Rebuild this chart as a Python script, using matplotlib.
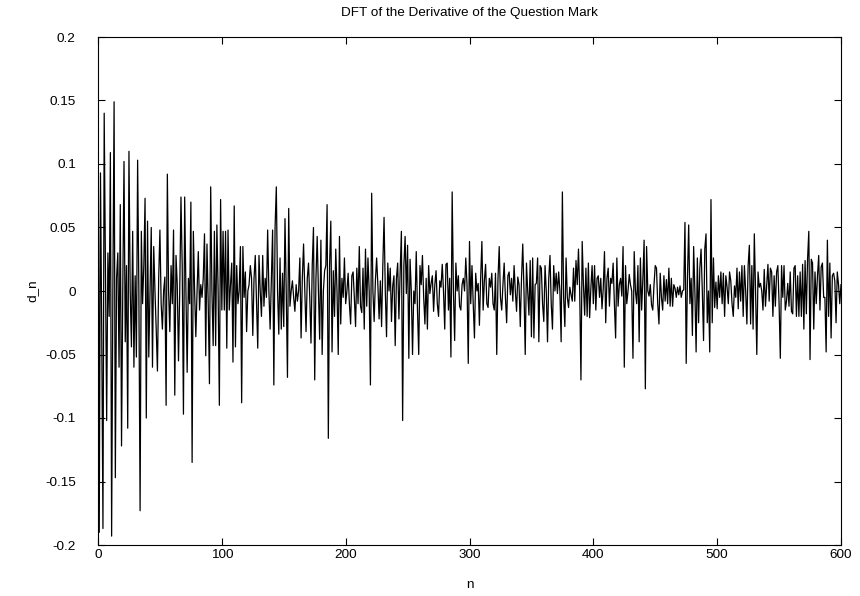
import matplotlib
matplotlib.use("Agg")
import matplotlib.pyplot as plt
from matplotlib.ticker import FuncFormatter, MultipleLocator
import numpy as np

# d_n values, in blocks of 50 (n = 0 .. 600)
d_000 = [0.2, -0.19, 0.093, -0.03, -0.187, 0.14, 0.02, -0.102, 0.03, -0.02,
         0.109, -0.193, 0.0, 0.149, -0.147, 0.01, 0.03, -0.06, 0.068, -0.122,
         0.0, 0.102, -0.04, 0.02, -0.108, 0.11, 0.0, -0.044, 0.047, -0.06,
         0.012, -0.052, 0.103, 0.0, -0.173, 0.047, -0.01, 0.02, 0.073, -0.1,
         0.055, -0.052, 0.0, 0.05, -0.06, 0.035, 0.0, -0.03, -0.063, 0.01]
d_050 = [0.048, -0.01, -0.03, 0.0, 0.011, -0.09, 0.092, 0.0, -0.032, 0.02,
         -0.01, 0.048, -0.082, 0.028, 0.005, -0.055, 0.0, 0.074, 0.02, -0.097,
         0.074, 0.0, -0.064, 0.01, -0.01, 0.07, -0.135, 0.047, 0.0, -0.036,
         0.0, 0.031, -0.015, 0.005, -0.005, 0.01, 0.045, -0.051, 0.037, -0.01,
         -0.073, 0.082, 0.0, -0.043, 0.047, -0.043, 0.052, 0.0, -0.09, 0.072]
d_100 = [-0.015, 0.047, -0.015, 0.047, -0.045, 0.048, -0.015, 0.005, 0.022, -0.056,
         0.067, -0.044, 0.02, -0.01, 0.0, 0.035, -0.088, 0.035, -0.005, 0.015,
         -0.032, 0.0, 0.005, 0.02, 0.01, -0.035, 0.01, 0.028, -0.01, -0.045,
         0.028, 0.0, -0.02, 0.028, -0.012, 0.01, -0.005, 0.048, 0.0, -0.03,
         0.01, 0.048, -0.074, 0.05, 0.082, 0.0, -0.034, 0.026, -0.03, 0.014]
d_150 = [-0.028, 0.057, 0.0, -0.068, 0.065, -0.012, 0.0, 0.008, -0.005, -0.016,
         0.005, -0.008, 0.0, 0.026, -0.037, 0.01, 0.037, 0.0, -0.032, 0.01,
         0.022, -0.005, -0.041, 0.02, 0.05, -0.07, 0.01, 0.043, 0.0, -0.038,
         0.04, -0.05, 0.0, 0.016, 0.02, 0.068, -0.116, 0.02, 0.055, -0.048,
         0.016, -0.02, 0.033, 0.0, -0.05, 0.043, -0.026, 0.01, -0.005, 0.026]
d_200 = [-0.01, 0.0, 0.014, -0.01, -0.026, 0.012, 0.015, -0.005, -0.028, 0.018,
         -0.01, 0.035, -0.012, -0.017, 0.018, -0.03, 0.033, -0.012, 0.026, 0.0,
         -0.074, 0.077, 0.0, -0.024, 0.008, 0.026, 0.005, -0.022, 0.008, -0.028,
         0.02, 0.058, 0.0, -0.036, 0.022, 0.0, 0.018, -0.024, 0.004, 0.012,
         -0.043, 0.01, 0.022, -0.022, 0.015, 0.047, -0.102, 0.02, 0.043, -0.002]
d_250 = [0.036, -0.053, 0.025, 0.0, -0.05, 0.0, -0.01, 0.031, -0.015, -0.05,
         0.02, 0.005, 0.028, -0.005, -0.026, 0.01, -0.03, 0.02, -0.002, 0.006,
         0.012, -0.016, 0.005, 0.016, -0.01, -0.02, 0.008, 0.003, 0.021, 0.0,
         -0.03, 0.021, 0.022, -0.015, 0.01, -0.052, 0.078, 0.0, -0.039, 0.022,
         0.0, 0.012, -0.012, -0.015, 0.005, 0.01, 0.0, 0.026, 0.005, -0.057]
d_300 = [0.039, -0.01, 0.02, -0.01, -0.037, 0.014, 0.0, 0.006, -0.027, 0.01,
         0.039, -0.015, 0.008, 0.021, -0.01, -0.013, 0.01, 0.003, 0.014, -0.01,
         -0.015, 0.014, -0.05, 0.01, 0.035, -0.005, -0.015, 0.005, 0.022, -0.005,
         -0.025, 0.012, 0.015, -0.003, 0.01, -0.008, 0.02, 0.0, -0.016, 0.011,
         0.005, -0.028, 0.01, 0.037, 0.0, -0.05, 0.022, 0.0, -0.019, 0.024]
d_350 = [-0.036, 0.026, -0.037, 0.005, 0.006, 0.026, -0.04, 0.02, 0.018, -0.01,
         -0.024, 0.02, 0.0, -0.04, 0.01, 0.028, -0.01, -0.03, 0.02, 0.0,
         0.014, -0.002, 0.015, 0.0, -0.04, 0.078, -0.005, -0.028, 0.026, -0.005,
         -0.013, 0.003, -0.003, -0.008, 0.018, -0.008, 0.024, 0.005, 0.033, 0.0,
         -0.07, 0.039, 0.005, -0.019, 0.018, -0.02, 0.022, -0.021, 0.002, 0.02]
d_400 = [-0.01, 0.02, -0.015, 0.01, 0.012, -0.005, 0.01, -0.014, 0.002, 0.031,
         -0.025, 0.01, 0.018, -0.012, 0.01, 0.006, 0.022, -0.01, -0.037, 0.026,
         -0.012, 0.005, 0.01, -0.004, 0.035, -0.06, 0.02, -0.01, 0.0, 0.013,
         0.005, 0.0, -0.053, 0.031, 0.0, -0.01, 0.02, -0.04, 0.026, -0.015,
         0.01, 0.04, -0.077, 0.035, 0.0, -0.004, 0.005, -0.011, -0.015, 0.005]
d_450 = [0.02, 0.018, -0.01, -0.026, 0.014, -0.005, -0.015, 0.012, -0.008, 0.009,
         -0.01, 0.018, -0.012, 0.01, -0.012, 0.005, 0.002, -0.005, 0.003, -0.003,
         0.004, -0.005, 0.0, 0.001, 0.054, -0.057, 0.01, 0.052, -0.01, 0.01,
         -0.035, 0.035, 0.0, -0.048, 0.026, -0.025, 0.018, 0.033, 0.0, -0.039,
         0.033, 0.045, -0.025, 0.0, -0.048, 0.072, -0.025, 0.026, -0.013, 0.007]
d_500 = [-0.014, 0.012, -0.005, 0.015, -0.01, 0.014, -0.02, 0.012, 0.003, -0.01,
         0.015, 0.008, -0.01, -0.02, 0.004, -0.005, 0.018, -0.014, 0.015, -0.008,
         0.02, -0.02, 0.02, 0.0, -0.026, 0.02, 0.036, -0.026, 0.02, -0.03,
         0.045, 0.0, -0.05, 0.015, 0.003, 0.006, 0.0, -0.015, 0.017, -0.012,
         0.005, 0.021, -0.008, 0.018, 0.015, -0.02, 0.012, -0.012, 0.015, 0.02]
d_550 = [-0.01, -0.053, 0.02, -0.005, 0.02, -0.015, -0.008, 0.006, -0.012, 0.015,
         -0.016, -0.018, 0.018, 0.02, -0.02, 0.012, -0.02, 0.015, -0.02, 0.021,
         -0.03, 0.024, -0.018, 0.025, 0.047, -0.054, 0.025, 0.022, -0.03, 0.015,
         -0.01, 0.012, 0.028, -0.015, 0.019, 0.022, -0.005, -0.005, -0.048, 0.04,
         -0.02, 0.022, -0.037, 0.012, 0.014, 0.008, -0.025, 0.015, 0.005, -0.01,
         0.005]

d_n = np.array(d_000 + d_050 + d_100 + d_150 + d_200 + d_250 + d_300
               + d_350 + d_400 + d_450 + d_500 + d_550)
n = np.arange(len(d_n))

plt.rcParams["font.family"] = ["Liberation Sans", "DejaVu Sans"]
plt.rcParams["font.size"] = 9.7

fig = plt.figure(figsize=(8.6, 5.96), dpi=100)
ax = fig.add_axes([98 / 860, 1 - 545 / 596, 743 / 860, 508 / 596])

ax.plot(n, d_n, color="black", linewidth=0.9)

ax.set_xlim(0, 600)
ax.set_ylim(-0.2, 0.2)
ax.xaxis.set_major_locator(MultipleLocator(100))
ax.yaxis.set_major_locator(MultipleLocator(0.05))
ax.yaxis.set_major_formatter(FuncFormatter(lambda v, _: "%g" % round(v, 4)))
ax.tick_params(direction="in", length=5, width=0.8, top=True, right=True,
               labelsize=9.7)
ax.tick_params(axis="y", pad=16)
ax.tick_params(axis="x", pad=3)
for s in ax.spines.values():
    s.set_linewidth(0.8)

ax.set_title("DFT of the Derivative of the Question Mark", fontsize=9.7, pad=15)
ax.set_xlabel("n", va="center")
ax.set_ylabel("d_n", va="center")
ax.xaxis.set_label_coords(0.5, (545 - 585) / 508)
ax.yaxis.set_label_coords((32 - 98) / 743, 0.5)

fig.savefig("out.png", dpi=100)
